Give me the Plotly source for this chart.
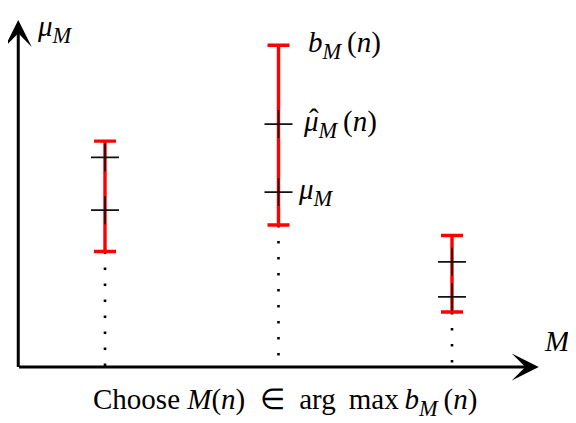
import plotly.graph_objects as go

# ---- data ----
arms = [1, 2, 3]
upper_b = [6.51, 9.27, 3.79]      # b_M(n)
lower_b = [3.33, 4.09, 1.585]     # lower end of interval
mu_hat = [6.04, 7.00, 3.03]       # \hat{mu}_M(n)
mu_true = [4.52, 5.04, 2.02]      # mu_M

x_axis_start, x_axis_end = 0.5, 3.5
y_axis_end = 10.0

FONT = "Liberation Serif"
RED = "#ff0000"
SP = "\u2002"   # en space
TH = "\u2009"   # thin space
SUB_M = '<span style="font-size:32px"><sub><i>M</i></sub></span>'

fig = go.Figure()

# dotted guides from the x-axis up to the lower end of each interval
for xi, lo in zip(arms, lower_b):
    fig.add_trace(go.Scatter(
        x=[xi, xi], y=[lo, 0], mode="lines",
        line=dict(color="black", width=2.6, dash="2.5px,13.5px"),
        hoverinfo="skip", showlegend=False))

# red confidence intervals
fig.add_trace(go.Scatter(
    x=arms, y=mu_hat, mode="markers",
    marker=dict(size=1, color="rgba(0,0,0,0)"),
    error_y=dict(type="data", symmetric=False,
                 array=[u - m for u, m in zip(upper_b, mu_hat)],
                 arrayminus=[m - l for m, l in zip(mu_hat, lower_b)],
                 color=RED, thickness=3.4, width=11),
    hoverinfo="skip", showlegend=False))

# '+' markers for estimates and true means
fig.add_trace(go.Scatter(
    x=arms + arms, y=mu_hat + mu_true, mode="markers",
    marker=dict(symbol="cross-thin", size=20,
                line=dict(color="#111111", width=1.6)),
    hoverinfo="skip", showlegend=False))

# axes with arrows
fig.add_annotation(x=x_axis_end, y=0, ax=x_axis_start - 0.004, ay=0,
                   xref="x", yref="y", axref="x", ayref="y",
                   text="", showarrow=True, arrowhead=3, arrowsize=1.5,
                   arrowwidth=3, arrowcolor="black")
fig.add_annotation(x=x_axis_start, y=y_axis_end, ax=x_axis_start, ay=-0.04,
                   xref="x", yref="y", axref="x", ayref="y",
                   text="", showarrow=True, arrowhead=3, arrowsize=1.5,
                   arrowwidth=3, arrowcolor="black")

# labels
lab_font = dict(family=FONT, size=29, color="black")
fig.add_annotation(x=arms[1], y=upper_b[1], xref="x", yref="y",
                   text="<i>b</i>" + SUB_M + TH + "(<i>n</i>)",
                   showarrow=False, xanchor="left", yanchor="middle",
                   xshift=27, font=lab_font)
fig.add_annotation(x=arms[1], y=mu_hat[1], xref="x", yref="y",
                   text="<i>μ</i>" + SUB_M + TH + "(<i>n</i>)",
                   showarrow=False, xanchor="left", yanchor="middle",
                   xshift=22, font=lab_font)
fig.add_annotation(x=arms[1], y=mu_hat[1], xref="x", yref="y",
                   text="ˆ", showarrow=False, xanchor="center",
                   yanchor="middle", xshift=35, yshift=5, font=lab_font)
fig.add_annotation(x=arms[1], y=mu_true[1], xref="x", yref="y",
                   text="<i>μ</i>" + SUB_M,
                   showarrow=False, xanchor="left", yanchor="middle",
                   xshift=17, font=lab_font)
fig.add_annotation(x=x_axis_start, y=1, xref="x", yref="paper",
                   text="<i>μ</i>" + SUB_M,
                   showarrow=False, xanchor="left", yanchor="top",
                   xshift=17, font=lab_font)
fig.add_annotation(x=x_axis_end, y=0, xref="x", yref="y",
                   text="<i>M</i>",
                   showarrow=False, xanchor="left", yanchor="middle",
                   xshift=3, yshift=26, font=lab_font)
fig.add_annotation(x=0.4877, y=0, xref="paper", yref="paper",
                   text="Choose " + "<i>M</i>(<i>n</i>)" + SP + "∈" + SP
                        + "arg" + TH + " max" + TH + "<i>b</i>" + SUB_M + TH + "(<i>n</i>)",
                   showarrow=False, xanchor="center", yanchor="bottom",
                   font=lab_font)

# The page body adds an 8px margin, so the figure is 568x415 and the
# axis ranges are set so that the drawing lands where the reference has it.
fig.update_layout(
    width=568, height=415,
    margin=dict(l=0, r=0, t=0, b=0),
    paper_bgcolor="white", plot_bgcolor="white",
    xaxis=dict(range=[0.4409, 3.7147], visible=False, fixedrange=True),
    yaxis=dict(range=[-1.614, 10.345], visible=False, fixedrange=True),
    showlegend=False,
)

fig.write_html("out.html")
